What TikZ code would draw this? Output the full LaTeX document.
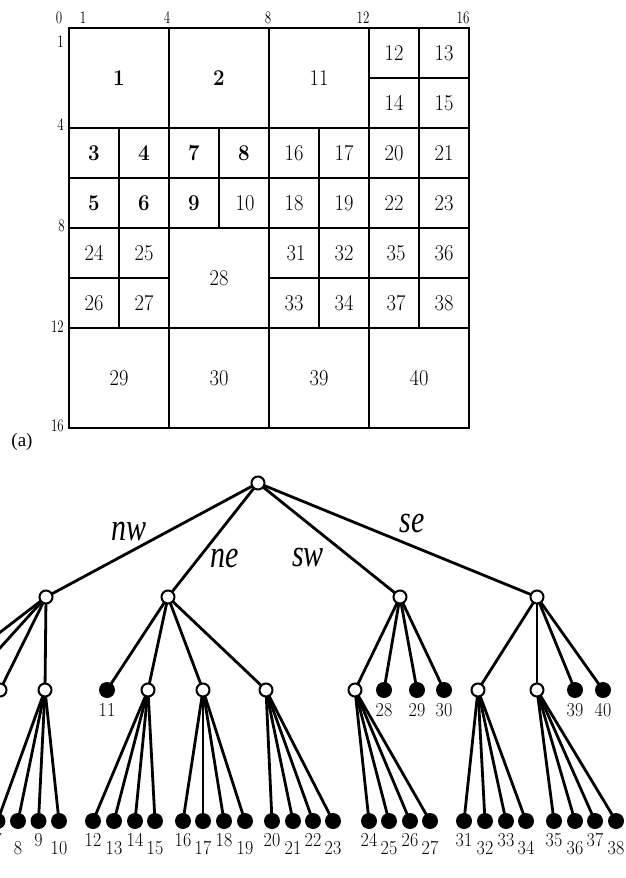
\documentclass[tikz,border=0pt]{standalone}
\usepackage{fontspec}
\usepackage{graphicx}
\newfontfamily\timesf{Liberation Serif}
\pgfdeclarelayer{bg}
\pgfsetlayers{bg,main}
\tikzset{
  hline/.style={line width=2.6pt, line cap=rect},
  vline/.style={line width=2.1pt, line cap=rect},
  cellnum/.style={inner sep=0pt, font=\fontsize{20.5}{20.5}\selectfont},
  axlbl/.style={inner sep=0pt, font=\fontsize{13}{13}\selectfont},
  opn/.style={circle, draw, line width=2pt, fill=white, inner sep=0pt, minimum size=13pt},
  leaf/.style={circle, fill=black, inner sep=0pt, minimum size=16pt},
  edge/.style={line width=2.8pt},
  elbl/.style={inner sep=0pt, font=\fontsize{30}{30}\timesf\itshape},
  lbl/.style={inner sep=0pt, font=\fontsize{18}{18}\selectfont},
}
\newcommand{\ys}[2]{\scalebox{1}[#1]{#2}}
\begin{document}
\begin{tikzpicture}[x=1pt,y=-1pt]
\useasboundingbox (0,0) rectangle (625,878);
\clip (0,0) rectangle (625,878);

% ---------- grid ----------
\draw[hline] (69,28) -- (469,28);
\draw[hline] (369,78) -- (469,78);
\draw[hline] (69,128) -- (469,128);
\draw[hline] (69,178) -- (469,178);
\draw[hline] (69,228) -- (469,228);
\draw[hline] (69,278) -- (169,278);
\draw[hline] (269,278) -- (469,278);
\draw[hline] (69,328) -- (469,328);
\draw[hline] (69,428) -- (469,428);
\draw[vline] (69,28) -- (69,428);
\draw[vline] (119,128) -- (119,328);
\draw[vline] (169,28) -- (169,428);
\draw[vline] (219,128) -- (219,228);
\draw[vline] (269,28) -- (269,428);
\draw[vline] (319,128) -- (319,328);
\draw[vline] (369,28) -- (369,428);
\draw[vline] (419,28) -- (419,328);
\draw[vline] (469,28) -- (469,428);

% axis labels
\node[axlbl] (t0) at (59,18) {\ys{1.35}{0}};
\node[axlbl] (t1) at (83,18) {\ys{1.35}{1}};
\node[axlbl] (t4) at (167,18) {\ys{1.35}{4}};
\node[axlbl] (t8) at (268,18) {\ys{1.35}{8}};
\node[axlbl] (t12) at (363,18) {\ys{1.35}{12}};
\node[axlbl] (t16) at (463,18) {\ys{1.35}{16}};
\node[axlbl, anchor=east] (s1) at (64,42) {\ys{1.35}{1}};
\node[axlbl, anchor=east] (s4) at (64,125) {\ys{1.35}{4}};
\node[axlbl, anchor=east] (s8) at (65,226) {\ys{1.35}{8}};
\node[axlbl, anchor=east] (s12) at (64,327) {\ys{1.35}{12}};
\node[axlbl, anchor=east] (s16) at (64,426) {\ys{1.35}{16}};
\node[inner sep=0pt, font=\fontsize{19}{19}\timesf] (cap) at (22,442) {(a)};

% cell numbers
\foreach \t/\x/\y in {1/119/78, 2/219/78, 3/94/153, 4/144/153, 7/194/153, 8/244/153,
  5/94/203, 6/144/203, 9/194/203}
  \node[cellnum] (n\t) at (\x,\y) {\ys{1.1}{\bfseries\t}};
\foreach \t/\x/\y in {10/245/203, 11/319/78, 12/394/53, 13/444/53, 14/394/103, 15/444/103,
  16/294/153, 17/344/153, 20/394/153, 21/444/153,
  18/294/203, 19/344/203, 22/394/203, 23/444/203,
  24/94/253, 25/144/253, 28/219/278, 31/296/253, 32/344/253, 35/396/253, 36/444/253,
  26/94/303, 27/144/303, 33/294/303, 34/344/303, 37/396/303, 38/444/303,
  29/119/378, 30/219/378, 39/319/378, 40/419/378}
  \node[cellnum] (n\t) at (\x,\y) {\ys{1.1}{\t}};

% ---------- tree ----------
\node[opn] (root) at (258,483) {};
\node[opn] (A) at (46,597) {};
\node[opn] (B) at (168,597) {};
\node[opn] (C) at (400,597) {};
\node[opn] (D) at (537,597) {};

\node[opn] (a3) at (0,690) {};
\node[opn] (a7) at (45,690) {};
\node[opn] (b12) at (148,690) {};
\node[opn] (b16) at (203,690) {};
\node[opn] (b20) at (266,690) {};
\node[opn] (c24) at (355,690) {};
\node[opn] (d31) at (478,690) {};
\node[opn] (d35) at (537,690) {};

% leaves 1-6 lie outside the visible frame (only their connectors show)
\foreach \t/\x in {1/-75, 2/-38} \node[leaf] (l\t) at (\x,690) {};
\foreach \t/\x in {3/-92, 4/-71, 5/-51, 6/-30} \node[leaf] (l\t) at (\x,821) {};

\foreach \t/\x in {11/107, 28/384, 29/417, 30/444, 39/575, 40/603} {
  \node[leaf] (l\t) at (\x,690) {};
  \node[lbl] (t\t) at (\x,710) {\ys{1.1}{\t}};
}

\foreach \t/\x/\y in {7/-2.5/840, 8/18/848, 9/38.5/840, 10/59/848,
  12/93/840, 13/114/848, 14/135/840, 15/155/848,
  16/183/840, 17/203/848, 18/224/840, 19/245/848,
  20/272/840, 21/293/848, 22/313/840, 23/333/848,
  24/369/840, 25/389/848, 26/410/840, 27/430/848,
  31/464/840, 32/485/848, 33/506/840, 34/526/848,
  35/554/840, 36/575/848, 37/595/840, 38/616/848} {
  \node[leaf] (l\t) at (\x,821) {};
  \node[lbl] (t\t) at (\x,\y) {\ys{1.1}{\t}};
}

\begin{pgfonlayer}{bg}
\foreach \c in {A,B,C,D} \draw[edge] (root.center) -- (\c.center);
\foreach \c in {l1,l2,a3,a7} \draw[edge] (A.center) -- (\c.center);
\foreach \c in {l11,b12,b16,b20} \draw[edge] (B.center) -- (\c.center);
\foreach \c in {c24,l28,l29,l30} \draw[edge] (C.center) -- (\c.center);
\foreach \c in {d31,d35,l39,l40} \draw[edge] (D.center) -- (\c.center);
\foreach \c in {3,4,5,6} \draw[edge] (a3.center) -- (l\c.center);
\foreach \c in {7,8,9,10} \draw[edge] (a7.center) -- (l\c.center);
\foreach \c in {12,13,14,15} \draw[edge] (b12.center) -- (l\c.center);
\foreach \c in {16,17,18,19} \draw[edge] (b16.center) -- (l\c.center);
\foreach \c in {20,21,22,23} \draw[edge] (b20.center) -- (l\c.center);
\foreach \c in {24,25,26,27} \draw[edge] (c24.center) -- (l\c.center);
\foreach \c in {31,32,33,34} \draw[edge] (d31.center) -- (l\c.center);
\foreach \c in {35,36,37,38} \draw[edge] (d35.center) -- (l\c.center);
\end{pgfonlayer}

% edge labels
\node[elbl] (enw) at (129,531) {\ys{1.3}{nw}};
\node[elbl] (ene) at (225,558) {\ys{1.3}{ne}};
\node[elbl] (esw) at (308,557) {\ys{1.3}{sw}};
\node[elbl] (ese) at (412,523) {\ys{1.3}{se}};
\end{tikzpicture}
\end{document}
